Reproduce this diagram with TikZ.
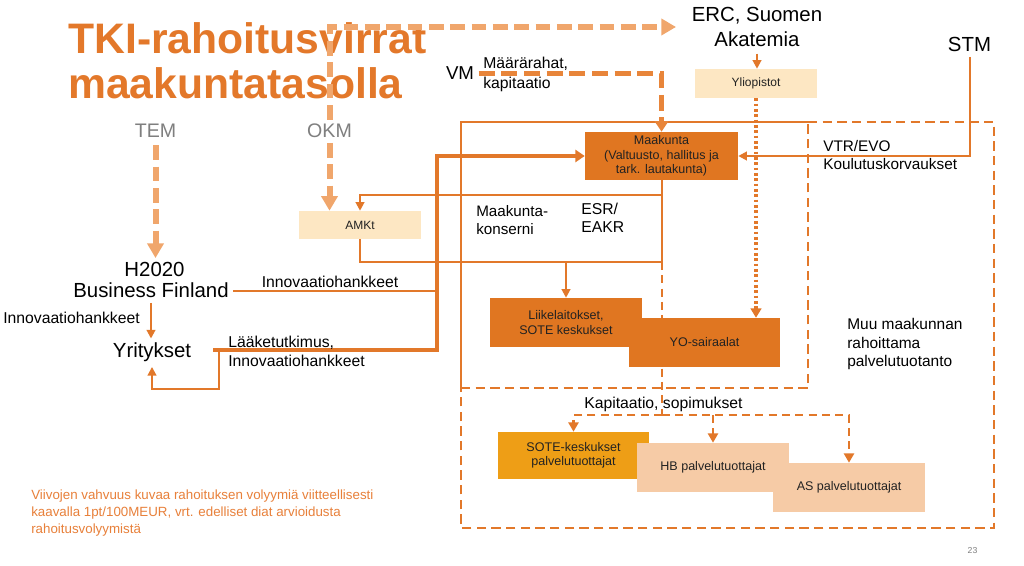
\documentclass[tikz,border=0pt]{standalone}
\usepackage{fontspec}
\setmainfont{Liberation Sans}
\usetikzlibrary{arrows.meta}
\definecolor{lineor}{HTML}{E2782A}
\definecolor{boxor}{HTML}{E07621}
\definecolor{lightor}{HTML}{F0A66C}
\definecolor{midor}{HTML}{E8853A}
\definecolor{titleor}{HTML}{E3782A}
\definecolor{soteor}{HTML}{EE9E16}
\definecolor{peach}{HTML}{F6CBA6}
\definecolor{cream}{HTML}{FDE7C3}
\definecolor{grayt}{HTML}{7F7F7F}
\definecolor{boxtext}{HTML}{222222}
\definecolor{footor}{HTML}{E8803A}
\pgfdeclarelayer{bg}
\pgfsetlayers{bg,main}
\begin{document}
\begin{tikzpicture}[x=0.75pt,y=-0.75pt,
  titlet/.style={inner sep=0pt, text=titleor, font=\fontsize{32}{34}\selectfont\bfseries},
  bigt/.style={font=\fontsize{15.3}{18.75}\selectfont},
  vmt/.style={font=\fontsize{14}{16}\selectfont},
  grayt/.style={text=grayt, font=\fontsize{14.7}{17}\selectfont},
  lab/.style={inner sep=0pt, align=left, font=\fontsize{11.8}{14}\selectfont},
  foot/.style={inner sep=0pt, align=left, text=footor, font=\fontsize{10}{12.5}\selectfont},
  pnum/.style={inner sep=0pt, text=grayt, font=\fontsize{6.5}{8}\selectfont},
  box/.style={inner sep=0pt, minimum width=114pt, minimum height=36.75pt, align=center, text=boxtext, font=\fontsize{9.4}{10.8}\selectfont},
  thinln/.style={draw=lineor, line width=1.5pt},
  thinar/.style={thinln, -{Triangle[length=6.5pt,width=6.5pt]}},
  thickar/.style={draw=lineor, line width=3pt, -{Triangle[length=7pt,width=9pt]}},
  lightdash/.style={draw=lightor, line width=4.5pt, dash pattern=on 11pt off 5pt, -{Triangle[length=11pt,width=12pt]}},
  vmdash/.style={draw=midor, line width=3.2pt, dash pattern=on 12pt off 5pt, -{Triangle[length=8pt,width=10pt]}},
  framedash/.style={draw=lineor, line width=1.5pt, dash pattern=on 7pt off 4pt},
  kapar/.style={draw=lineor, line width=2.2pt, dash pattern=on 6pt off 4pt, -{Triangle[length=7pt,width=7.5pt]}},
  kapln/.style={draw=lineor, line width=2.2pt, dash pattern=on 6pt off 4pt},
  dotar/.style={draw=lineor, line width=2.5pt, dash pattern=on 2pt off 2pt, -{Triangle[length=7pt,width=8pt]}}
]
\begin{pgfonlayer}{bg}
\fill[white] (0,0) rectangle (1024,566);
\end{pgfonlayer}
\useasboundingbox (0,0) rectangle (1024,566);

% title
\node[titlet, anchor=base west] (t1) at (68,54) {TKI-rahoitusvirrat};
\node[titlet, anchor=base west] (t2) at (68,99) {maakuntatasolla};

% text nodes
\node[bigt, inner sep=0pt, anchor=north, align=center] (erc) at (757,7) {ERC, Suomen\\Akatemia};
\node[bigt, anchor=base] (stm) at (969.5,52) {STM};
\node[vmt, anchor=base] (vm) at (460,80) {VM};
\node[lab, anchor=north west, font=\fontsize{11.8}{15}\selectfont] (mr) at (483,57) {Määrärahat,\\kapitaatio};
\node[grayt, anchor=base] (tem) at (155.5,138) {TEM};
\node[grayt, anchor=base] (okm) at (329.5,138) {OKM};
\node[bigt, anchor=base] (h2020) at (154.5,277) {H2020};
\node[bigt, anchor=base] (bfin) at (151,298) {Business Finland};
\node[bigt, anchor=base] (yr) at (152,358) {Yritykset};
\node[lab, anchor=base] (inn1) at (330,288) {Innovaatiohankkeet};
\node[lab, anchor=base] (inn2) at (71.5,324) {Innovaatiohankkeet};
\node[lab, anchor=north west, font=\fontsize{11.8}{14.25}\selectfont] (lk) at (228,336) {Lääketutkimus,\\Innovaatiohankkeet};
\node[lab, anchor=north west, font=\fontsize{11.4}{13.5}\selectfont] (kons) at (476,205) {Maakunta-\\konserni};
\node[lab, anchor=north west, font=\fontsize{11.8}{13.75}\selectfont] (esr) at (581,203) {ESR/\\EAKR};
\node[lab, anchor=north west, font=\fontsize{11.5}{13.5}\selectfont] (vtr) at (823,140) {VTR/EVO\\Koulutuskorvaukset};
\node[lab, anchor=north west, font=\fontsize{11.6}{14}\selectfont] (muu) at (847,318) {Muu maakunnan\\rahoittama\\palvelutuotanto};
\node[lab, anchor=base west] (kap) at (584,408) {Kapitaatio, sopimukset};
\node[foot, anchor=north west] (foot) at (31,490) {Viivojen vahvuus kuvaa rahoituksen volyymiä viitteellisesti\\kaavalla 1pt/100MEUR, vrt. edelliset diat arvioidusta\\rahoitusvolyymistä};
\node[pnum, anchor=base] (pg) at (972.5,553) {23};

% boxes
\node[box, fill=cream, minimum width=91.5pt, minimum height=21.75pt, font=\fontsize{9}{10.8}\selectfont] (yli) at (756,83.5) {Yliopistot};
\node[box, fill=boxor, minimum width=114.75pt, minimum height=36pt] (mk) at (661.5,156) {Maakunta\\(Valtuusto, hallitus ja\\tark. lautakunta)};
\node[box, fill=cream, minimum width=91.5pt, minimum height=21pt, font=\fontsize{9}{10.8}\selectfont] (amk) at (360,225) {AMKt};
\node[box, fill=boxor] (lii) at (566,322.5) {Liikelaitokset,\\SOTE keskukset};
\node[box, fill=boxor, minimum width=113.25pt] (yos) at (704.5,342.5) {YO-sairaalat};
\node[box, fill=soteor, minimum width=113.25pt, minimum height=35.25pt] (sote) at (573.5,455.5) {SOTE-keskukset\\palvelutuottajat};
\node[box, fill=peach] (hb) at (713,467.5) {HB palvelutuottajat};
\node[box, fill=peach] (as) at (849,487.5) {AS palvelutuottajat};

% coordinates
\coordinate (fTL) at (461,122);
\coordinate (fTM) at (808,122);
\coordinate (fTR) at (994,122);
\coordinate (fML) at (461,388);
\coordinate (fMM) at (808,388);
\coordinate (fBL) at (461,528);
\coordinate (fBR) at (994,528);
\coordinate (k195) at (662,195);
\coordinate (k262) at (662,262);
\coordinate (kbot) at (662,415);
\coordinate (lkA) at (213,350);
\coordinate (lkB) at (437,350);
\coordinate (rt) at (219,389);
\coordinate (okmtop) at (329.5,27);
\coordinate (ercin) at (676,27);

\begin{pgfonlayer}{bg}
% frames
\draw[thinln] (fML) -- (fTL) -- (fTM);
\draw[framedash] (fTM) -- (fTR) -- (fBR) -- (fBL) -- (fML);
\draw[framedash] (fML) -- (fMM) -- (fTM);
% konserni lines
\draw[thinln] (mk.south) -- (mk.south |- k262);
\draw[thinar] (k195) -| (amk.north);
\draw[thinln] (amk.south) |- (k262);
\draw[thinar] (lii.north |- k262) -- (lii.north);
% kapitaatio
\draw[kapln] (k262) -- (kbot);
\draw[kapar] (kbot) -| (sote.north);
\draw[kapar] (kbot) -| (as.north);
\draw[kapar] (hb.north |- kbot) -- (hb.north);
% yliopistot
\draw[dotar] (yli.south) -- (yli.south |- yos.north);
\draw[thinar, shorten <=5pt] (erc.south) -- (erc.south |- yli.north);
% STM
\draw[thinar] (stm.south) |- (mk.east);
% VM
\draw[vmdash] (vm.east) -| (mk.north);
% left side
\draw[thickar] (lkA) -- (lkB) |- (mk.west);
\draw[thinar] (rt |- lkA) -- (rt) -| (yr.south);
\draw[thinln] (bfin.east) -- (bfin.east -| lkB);
\draw[thinar] (bfin.south) -- (bfin.south |- yr.north);
\draw[lightdash, shorten <=2pt] (tem.south) -- (tem.south |- h2020.north);
\draw[lightdash] (okm.south) -- (okm.south |- amk.north);
\end{pgfonlayer}

% top light arrow over title
\draw[lightdash] (okm.north) -- (okmtop) -- (ercin);
\end{tikzpicture}
\end{document}
